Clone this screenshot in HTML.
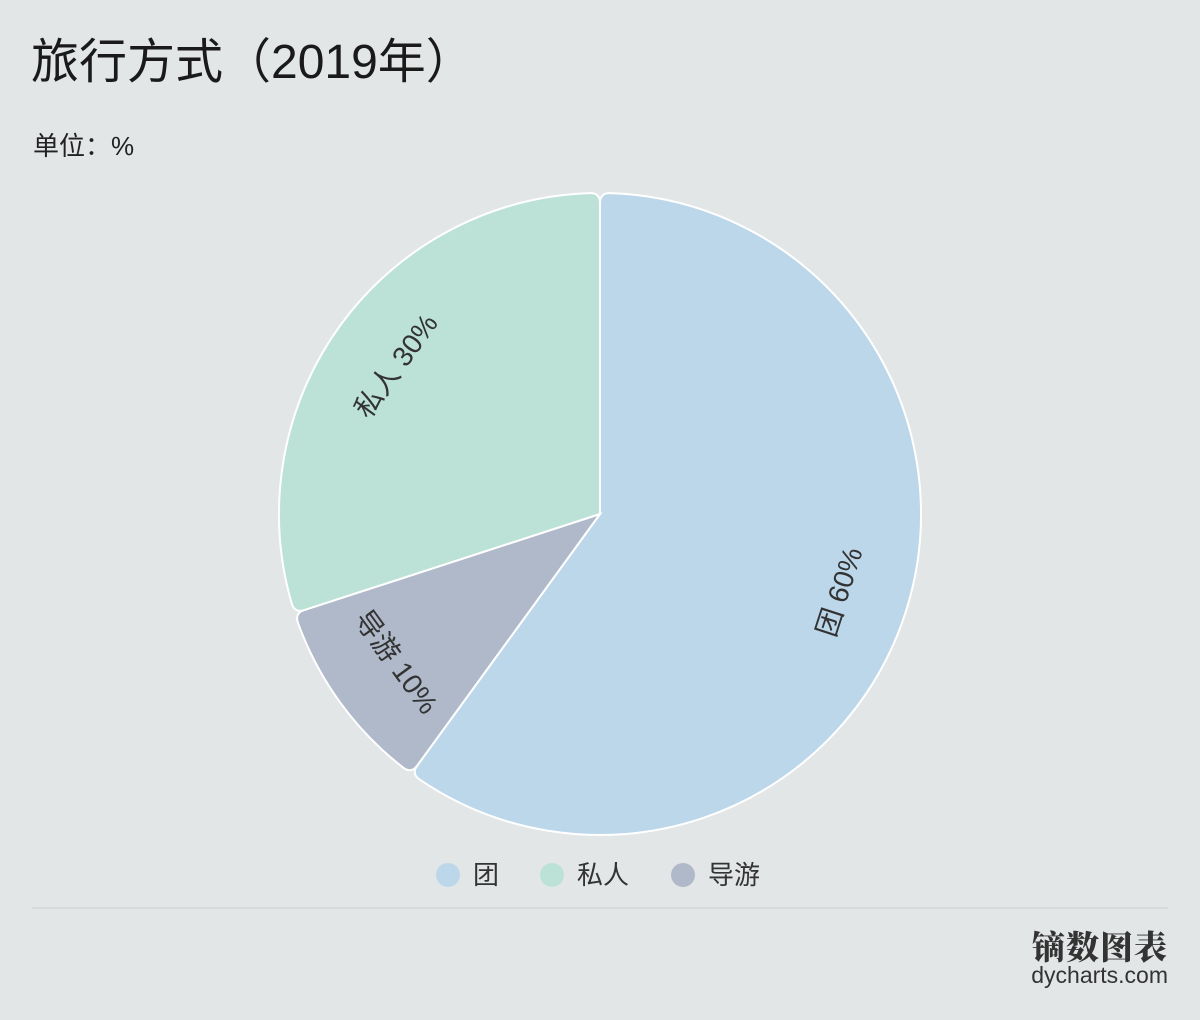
<!DOCTYPE html>
<html><head><meta charset="utf-8">
<style>
html,body{margin:0;padding:0;}
body{width:1200px;height:1020px;background:#e3e6e7;overflow:hidden;position:relative;font-family:"Liberation Sans","Noto Sans CJK SC",sans-serif;color:#1a1a1a;}
#title{position:absolute;left:31px;top:32px;font-size:48px;line-height:62px;}
#unit{position:absolute;left:33px;top:126px;font-size:26px;color:#222;}
svg{position:absolute;left:0;top:0;}
#logo1{position:absolute;right:32px;top:922px;font-family:"Noto Serif CJK SC",serif;font-weight:900;font-size:33px;color:#333;letter-spacing:1px;}
#logo2{position:absolute;right:32px;top:962px;font-size:23px;color:#333;}
</style></head><body>
<div id="title">旅行方式（2019年）</div>
<div id="unit">单位：%</div>
<svg id="chart" width="1200" height="1020"></svg>
<div id="logo1">镝数图表</div>
<div id="logo2">dycharts.com</div>
<script>
const categories = ["团", "导游", "私人"];
const values = [60, 10, 30];
const legendOrder = ["团", "私人", "导游"];
const colors = {"团":"#bcd7ea","私人":"#bce2d7","导游":"#b0b9ca"};
const NS="http://www.w3.org/2000/svg";
const svg=document.getElementById('chart');
const cx=600, cy=514, R=321, LR=252;
const total=values.reduce((a,b)=>a+b,0);
function pt(r,a){return [cx+r*Math.sin(a), cy-r*Math.cos(a)];}
function slicePath(a0,a1){
  const cr=10, da=cr/R;
  const p1=pt(R,a0+da), p2=pt(R,a1-da);
  const large=(a1-a0-2*da)>Math.PI?1:0;
  const e0=pt(R-cr,a0), e1=pt(R-cr,a1);
  const o0=pt(R,a0), o1=pt(R,a1);
  return `M${cx},${cy} L${e0[0]},${e0[1]} Q${o0[0]},${o0[1]} ${p1[0]},${p1[1]} A${R},${R} 0 ${large} 1 ${p2[0]},${p2[1]} Q${o1[0]},${o1[1]} ${e1[0]},${e1[1]} Z`;
}
let acc=0;
categories.forEach((c,i)=>{
  const a0=acc/total*2*Math.PI; acc+=values[i]; const a1=acc/total*2*Math.PI;
  const p=document.createElementNS(NS,'path');
  p.setAttribute('d',slicePath(a0,a1));
  p.setAttribute('fill',colors[c]);
  p.setAttribute('stroke','#fff');
  p.setAttribute('stroke-width','2');
  
  
  svg.appendChild(p);
});
acc=0;
categories.forEach((c,i)=>{
  const a0=acc/total*2*Math.PI; acc+=values[i]; const a1=acc/total*2*Math.PI;
  const m=(a0+a1)/2; const [x,y]=pt(LR,m);
  let rot=m*180/Math.PI-180; if(rot>90) rot-=180; if(rot<-90) rot+=180;
  const t=document.createElementNS(NS,'text');
  t.setAttribute('x',x); t.setAttribute('y',y);
  t.setAttribute('text-anchor','middle'); t.setAttribute('dominant-baseline','central');
  t.setAttribute('transform',`rotate(${rot} ${x} ${y})`);
  t.setAttribute('font-size','28'); t.setAttribute('fill','#333');
  t.textContent=c+' '+values[i]+'%';
  
  
  svg.appendChild(t);
});
const legX=[448,552,683];
legendOrder.forEach((c,i)=>{
  const g=document.createElementNS(NS,'g');
  
  
  const ci=document.createElementNS(NS,'circle');
  ci.setAttribute('cx',legX[i]); ci.setAttribute('cy',875); ci.setAttribute('r',12);
  ci.setAttribute('fill',colors[c]);
  g.appendChild(ci);
  const t=document.createElementNS(NS,'text');
  t.setAttribute('x',legX[i]+25); t.setAttribute('y',884);
  t.setAttribute('font-size','26'); t.setAttribute('fill','#333');
  t.textContent=c;
  g.appendChild(t);
  svg.appendChild(g);
});
const ln=document.createElementNS(NS,'line');
ln.setAttribute('x1',32);ln.setAttribute('x2',1168);ln.setAttribute('y1',908);ln.setAttribute('y2',908);
ln.setAttribute('stroke','#d2d6d8');ln.setAttribute('stroke-width','1.5');


svg.appendChild(ln);
</script>
</body></html>
